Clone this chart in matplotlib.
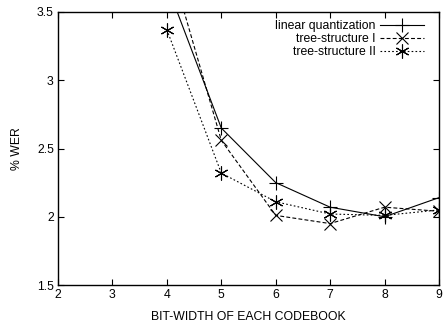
import matplotlib
matplotlib.use("Agg")
import matplotlib.pyplot as plt
from matplotlib.ticker import FuncFormatter

plt.rcParams['font.family'] = ['Liberation Sans', 'DejaVu Sans']

bits = [4, 5, 6, 7, 8, 9]
linear_wer = [3.70, 2.65, 2.25, 2.07, 2.00, 2.14]
tree1_wer = [3.94, 2.56, 2.01, 1.95, 2.07, 2.04]
tree2_wer = [3.37, 2.32, 2.11, 2.02, 2.01, 2.05]

xticks = [2, 3, 4, 5, 6, 7, 8, 9]
yticks = [1.5, 2, 2.5, 3, 3.5]

fs = 8.8

fig = plt.figure(figsize=(4.43, 3.23), dpi=100)
ax = fig.add_axes([58 / 443, 1 - 285 / 323, (439 - 58) / 443, (285 - 12) / 323])

ax.plot(bits, linear_wer, color='black', linewidth=0.8, linestyle='-',
        marker='+', markersize=10, markeredgewidth=0.8, label='linear quantization')
ax.plot(bits, tree1_wer, color='black', linewidth=0.8, linestyle=(0, (3.5, 2)),
        marker='x', markersize=8, markeredgewidth=0.8, label='tree-structure I')
ax.plot(bits, tree2_wer, color='black', linewidth=0.8, linestyle=(0, (1.5, 2)),
        marker=(6, 2, 0), markersize=10, markeredgewidth=0.8, label='tree-structure II')

ax.set_xlim(2, 9)
ax.set_ylim(1.5, 3.5)
ax.set_xticks(xticks)
ax.set_yticks(yticks)
ax.yaxis.set_major_formatter(FuncFormatter(lambda v, p: '%g' % v))
ax.tick_params(direction='in', top=True, right=True, length=4, width=0.8,
               labelsize=fs, pad=3)
for s in ax.spines.values():
    s.set_linewidth(1.0)

ax.set_xlabel('BIT-WIDTH OF EACH CODEBOOK', fontsize=fs, labelpad=7)
ax.set_ylabel('% WER', fontsize=fs, labelpad=10)

ax.legend(loc='upper right', frameon=False, markerfirst=False, fontsize=fs,
          handlelength=3.6, handletextpad=0.35, labelspacing=0.08,
          borderaxespad=0, borderpad=0,
          bbox_to_anchor=((424 - 58) / 381, (285 - 20) / 273))

fig.savefig('out.png', dpi=100)
